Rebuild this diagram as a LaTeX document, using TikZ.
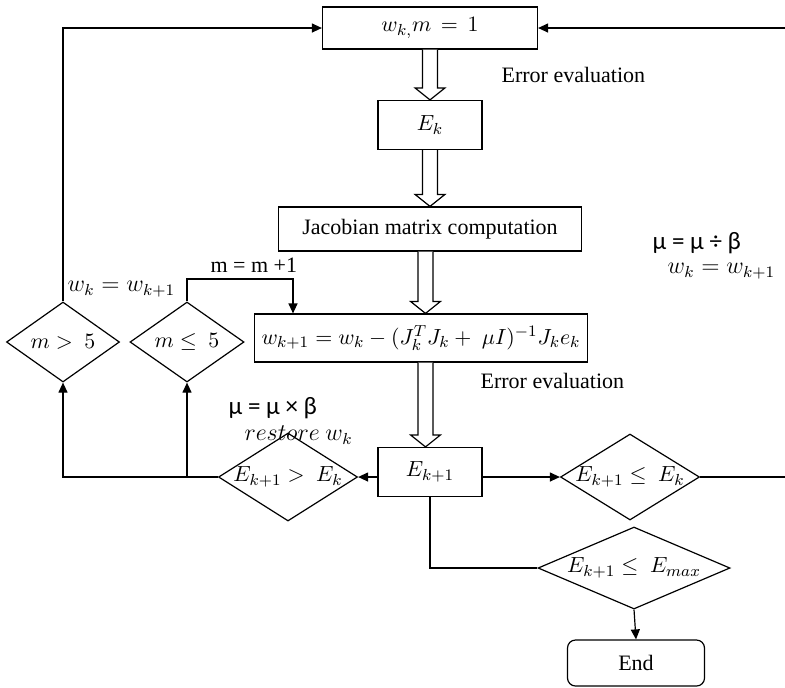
\documentclass[tikz,border=0pt]{standalone}
\usepackage{amsmath}
\usepackage{amssymb}
\usepackage{fontspec}
\setmainfont{Liberation Serif}
\newfontfamily\calibfont{Carlito}
\usetikzlibrary{shapes.geometric,arrows.meta,calc}

\tikzset{
  box/.style={draw, rectangle, inner sep=0pt},
  decision/.style={draw, diamond, inner sep=0pt},
  arr/.style={-{Triangle[length=5pt,width=4.5pt]}},
  lbl/.style={inner sep=0pt, anchor=west}
}

% hollow block arrow from the bottom of one box to the top of the next
\newcommand{\fatarrow}[2]{%
  \draw[fill=white] let \p1=(#1.south), \p2=(#2.north),
      \p3=($(#1.south)!0.5!(#2.north)$) in
    (\x3-3.75pt,\y1) -- (\x3-3.75pt,\y2+6pt) -- (\x3-7.5pt,\y2+6pt) -- (\x3,\y2)
    -- (\x3+7.5pt,\y2+6pt) -- (\x3+3.75pt,\y2+6pt) -- (\x3+3.75pt,\y1);}

\begin{document}
\begin{tikzpicture}[x=0.5pt,y=-0.5pt,line width=0.6pt,font=\fontsize{11}{13}\selectfont]
    \useasboundingbox (0,0) rectangle (785,687);
    % Main column
    \node[box, minimum width=107.5pt, minimum height=21pt] (wk) at (430,28) {$w_{k,}m\,=\,1$};
    \node[box, minimum width=52pt, minimum height=24.5pt] (ek) at (430,125) {$E_k$};
    \node[box, minimum width=151.5pt, minimum height=22pt] (jac) at (430,229) {Jacobian matrix computation};
    \node[box, minimum width=166.5pt, minimum height=24pt] (upd) at (421,338) {$w_{k+1} = w_k - (J_k^T J_k +\ \mu I)^{-1} J_k e_k$};
    \node[box, minimum width=52pt, minimum height=24.5pt] (ek1) at (430,472) {$E_{k+1}$};
    % Decisions
    \node[decision, minimum width=69.5pt, minimum height=44pt, label=center:{$E_{k+1} >\ E_k$}] (gt) at (288,477) {};
    \node[decision, minimum width=69.5pt, minimum height=43pt, label=center:{$E_{k+1} \leq\ E_k$}] (le) at (630,477) {};
    \node[decision, minimum width=96pt, minimum height=41pt, label=center:{$E_{k+1} \leq\ E_{max}$}] (emax) at (634,568) {};
    \node[decision, minimum width=56.5pt, minimum height=40pt, label=center:{$m >\ 5$}] (mgt) at (63,342) {};
    \node[decision, minimum width=57pt, minimum height=40pt, label=center:{$m \leq\ 5$}] (mle) at (187,342) {};
    \node[draw, rounded corners=4pt, minimum width=68.5pt, minimum height=23pt] (stop) at (636,663) {End};
    % Block arrows down the column
    \foreach \a/\b in {wk/ek, ek/jac, jac/upd, upd/ek1} {
      \fatarrow{\a}{\b}
    }
    % Labels
    \node[lbl] (ev1) at (501,75) {Error evaluation};
    \node[lbl] (ev2) at (480,381) {Error evaluation};
    \node[lbl] (mudiv) at (652,243) {\calibfont\fontsize{12.5}{14}\selectfont μ = μ ÷ β};
    \node[lbl, font=\fontsize{11.5}{13}\selectfont] (wkright) at (667,271) {$w_k = w_{k+1}$};
    \node[lbl] (minc) at (210,265) {m = m +1};
    \node[lbl, font=\fontsize{11.5}{13}\selectfont] (wkleft) at (67,289) {$w_k = w_{k+1}$};
    \node[lbl] (mumul) at (228,408) {\calibfont\fontsize{12.5}{14}\selectfont μ = μ × β};
    \node[lbl, font=\fontsize{11.5}{13}\selectfont] (restore) at (244,435) {$restore\ w_k$};
    % Loose ends at the right margin
    \coordinate (righttop) at (785,28);
    \coordinate (rightlow) at (785,477);
    \coordinate (mturn) at (293,279);
    % Connectors
    \draw[arr] (ek1.west |- gt.east) -- (gt.east);
    \draw[arr] (ek1.east |- le.west) -- (le.west);
    \draw (le.east) -- (rightlow);
    \draw[arr] (righttop) -- (wk.east);
    \draw[arr] (gt.west) -| (mgt.south);
    \draw[arr] (mle.south |- gt.west) -- (mle.south);
    \draw[arr] (mgt.north) |- (wk.west);
    \draw[arr] (mle.north) |- (mturn) -- (mturn |- upd.north);
    \draw (ek1.south) |- (emax.west);
    \draw[arr] (emax.south) -- (stop.north);
\end{tikzpicture}
\end{document}
